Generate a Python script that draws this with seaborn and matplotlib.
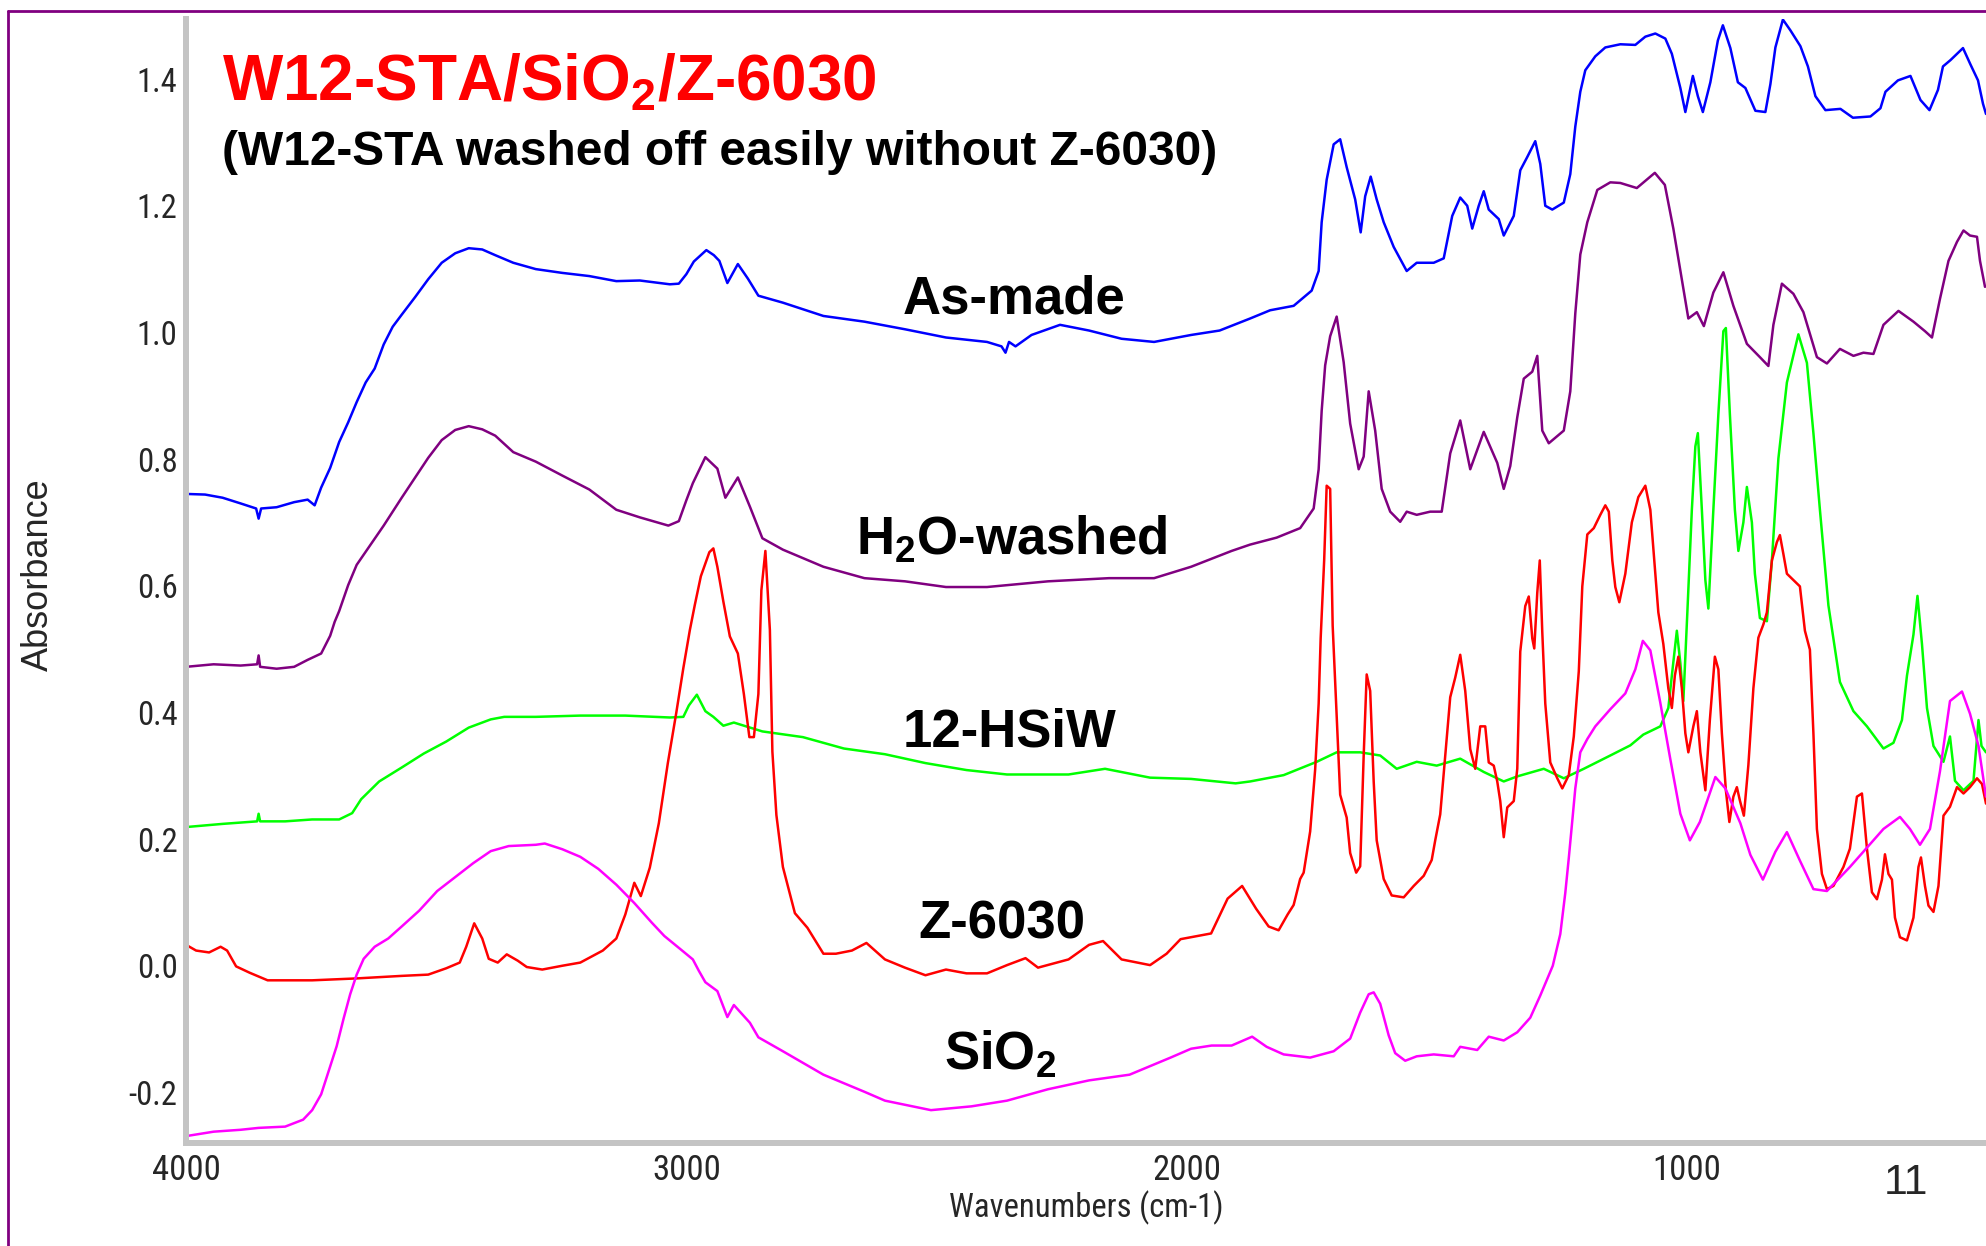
import matplotlib
matplotlib.use('Agg')
import matplotlib.pyplot as plt
import seaborn as sns
import pandas as pd
from matplotlib import font_manager
from matplotlib.lines import Line2D
from matplotlib.ticker import MultipleLocator, FormatStrFormatter

# --- spectra (wavenumber, absorbance) ---
asmade_wn = [4000, 3962, 3927, 3891, 3860, 3855, 3850, 3819, 3784, 3757, 3743, 3730, 3712, 3694, 3676,
             3659, 3641, 3623, 3605, 3587, 3569, 3542, 3516, 3489, 3462, 3435, 3408, 3382, 3346, 3301,
             3248, 3194, 3140, 3093, 3033, 3015, 3000, 2985, 2960, 2945, 2934, 2918, 2897, 2877, 2856,
             2807, 2726, 2644, 2563, 2481, 2399, 2370, 2362, 2355, 2342, 2310, 2253, 2195, 2130, 2065,
             1991, 1934, 1873, 1833, 1786, 1750, 1736, 1730, 1720, 1706, 1693, 1680, 1663, 1652, 1643,
             1632, 1620, 1606, 1586, 1560, 1540, 1506, 1486, 1469, 1453, 1439, 1429, 1416, 1406, 1396,
             1376, 1366, 1346, 1333, 1319, 1303, 1293, 1283, 1269, 1246, 1233, 1223, 1213, 1203, 1183,
             1163, 1133, 1103, 1083, 1063, 1043, 1030, 1013, 1003, 988, 978, 968, 953, 938, 928,
             913, 898, 883, 863, 843, 833, 823, 808, 793, 773, 758, 743, 723, 693, 668,
             633, 613, 603, 578, 553, 533, 515, 498, 488, 473, 448, 433, 418, 408, 402]
asmade_abs = [0.745, 0.744, 0.739, 0.730, 0.722, 0.706, 0.722, 0.724, 0.732, 0.736, 0.727, 0.755, 0.786, 0.827, 0.858,
              0.890, 0.921, 0.943, 0.981, 1.009, 1.028, 1.056, 1.084, 1.110, 1.125, 1.133, 1.131, 1.122, 1.110, 1.100,
              1.094, 1.089, 1.081, 1.082, 1.076, 1.077, 1.092, 1.112, 1.130, 1.122, 1.113, 1.078, 1.108, 1.085, 1.058,
              1.047, 1.026, 1.017, 1.005, 0.992, 0.985, 0.978, 0.968, 0.985, 0.978, 0.996, 1.012, 1.003, 0.990, 0.985,
              0.996, 1.003, 1.022, 1.035, 1.042, 1.066, 1.097, 1.174, 1.241, 1.297, 1.305, 1.261, 1.210, 1.158, 1.215,
              1.246, 1.210, 1.174, 1.135, 1.097, 1.110, 1.110, 1.117, 1.184, 1.213, 1.200, 1.164, 1.200, 1.223, 1.194,
              1.179, 1.153, 1.184, 1.256, 1.277, 1.302, 1.266, 1.200, 1.194, 1.205, 1.250, 1.325, 1.380, 1.414, 1.436,
              1.450, 1.455, 1.454, 1.467, 1.472, 1.464, 1.440, 1.386, 1.348, 1.405, 1.373, 1.348, 1.395, 1.461, 1.485,
              1.449, 1.395, 1.386, 1.350, 1.348, 1.392, 1.450, 1.494, 1.477, 1.452, 1.420, 1.373, 1.351, 1.353, 1.339,
              1.341, 1.354, 1.380, 1.398, 1.405, 1.367, 1.351, 1.383, 1.420, 1.430, 1.449, 1.423, 1.398, 1.361, 1.345]

washed_wn = [4000, 3945, 3891, 3858, 3855, 3852, 3819, 3784, 3757, 3730, 3712, 3703, 3694, 3676, 3659,
             3632, 3605, 3569, 3542, 3516, 3489, 3462, 3435, 3408, 3382, 3346, 3301, 3248, 3194, 3140,
             3093, 3036, 3015, 3000, 2987, 2962, 2938, 2922, 2897, 2873, 2848, 2807, 2726, 2644, 2563,
             2481, 2399, 2277, 2155, 2065, 1991, 1910, 1873, 1820, 1773, 1746, 1736, 1730, 1723, 1713,
             1700, 1686, 1673, 1656, 1646, 1636, 1623, 1610, 1593, 1573, 1560, 1540, 1513, 1490, 1473,
             1453, 1433, 1406, 1379, 1366, 1353, 1339, 1326, 1309, 1299, 1289, 1276, 1246, 1233, 1223,
             1213, 1199, 1179, 1153, 1133, 1100, 1064, 1044, 1027, 1010, 997, 980, 966, 947, 927,
             907, 880, 854, 837, 827, 810, 787, 767, 740, 720, 694, 667, 647, 627, 607,
             577, 547, 524, 510, 494, 477, 460, 447, 434, 420, 414, 404]
washed_abs = [0.472, 0.476, 0.474, 0.476, 0.490, 0.472, 0.469, 0.472, 0.483, 0.493, 0.521, 0.543, 0.560, 0.601, 0.633,
              0.664, 0.695, 0.739, 0.771, 0.802, 0.830, 0.846, 0.852, 0.847, 0.837, 0.811, 0.796, 0.774, 0.752, 0.720,
              0.708, 0.695, 0.702, 0.735, 0.762, 0.803, 0.785, 0.739, 0.771, 0.725, 0.675, 0.657, 0.630, 0.612, 0.607,
              0.598, 0.598, 0.607, 0.612, 0.612, 0.630, 0.655, 0.665, 0.676, 0.691, 0.722, 0.784, 0.876, 0.948, 0.994,
              1.025, 0.953, 0.856, 0.784, 0.804, 0.907, 0.845, 0.753, 0.717, 0.701, 0.717, 0.712, 0.717, 0.717, 0.809,
              0.861, 0.784, 0.843, 0.794, 0.753, 0.789, 0.866, 0.927, 0.938, 0.963, 0.845, 0.825, 0.845, 0.907, 1.030,
              1.123, 1.174, 1.225, 1.237, 1.236, 1.228, 1.252, 1.233, 1.164, 1.083, 1.022, 1.032, 1.010, 1.063, 1.095,
              1.042, 0.982, 0.961, 0.947, 1.012, 1.077, 1.061, 1.032, 0.961, 0.951, 0.974, 0.963, 0.968, 0.966, 1.012,
              1.034, 1.017, 1.002, 0.992, 1.053, 1.113, 1.143, 1.161, 1.153, 1.151, 1.113, 1.072]

hsiw_wn = [4000, 3927, 3858, 3855, 3852, 3802, 3748, 3694, 3668, 3650, 3614, 3569, 3525, 3480, 3435,
           3391, 3364, 3301, 3212, 3122, 3033, 3006, 2995, 2979, 2962, 2946, 2926, 2905, 2848, 2767,
           2685, 2603, 2522, 2440, 2359, 2236, 2163, 2073, 1991, 1902, 1873, 1806, 1740, 1700, 1653,
           1613, 1580, 1540, 1500, 1453, 1406, 1366, 1339, 1286, 1246, 1206, 1153, 1113, 1087, 1053,
           1037, 1030, 1020, 1013, 1007, 999, 990, 983, 978, 970, 963, 957, 947, 937, 927,
           922, 914, 904, 897, 887, 880, 870, 864, 854, 840, 830, 817, 800, 777, 760,
           747, 734, 717, 694, 667, 640, 607, 587, 570, 560, 547, 539, 530, 520, 507,
           487, 474, 464, 447, 427, 417, 411, 402]
hsiw_abs = [0.219, 0.224, 0.228, 0.240, 0.228, 0.228, 0.231, 0.231, 0.241, 0.263, 0.291, 0.313, 0.335, 0.354, 0.376,
            0.389, 0.393, 0.393, 0.395, 0.395, 0.392, 0.393, 0.411, 0.428, 0.402, 0.393, 0.379, 0.384, 0.370, 0.361,
            0.343, 0.334, 0.320, 0.309, 0.302, 0.302, 0.311, 0.297, 0.295, 0.288, 0.291, 0.301, 0.322, 0.337, 0.337,
            0.332, 0.311, 0.322, 0.316, 0.327, 0.306, 0.291, 0.299, 0.311, 0.296, 0.311, 0.332, 0.348, 0.365, 0.378,
            0.407, 0.458, 0.529, 0.478, 0.418, 0.558, 0.720, 0.820, 0.841, 0.720, 0.609, 0.564, 0.720, 0.871, 1.002,
            1.007, 0.871, 0.720, 0.655, 0.700, 0.756, 0.700, 0.619, 0.549, 0.544, 0.640, 0.801, 0.921, 0.997, 0.952,
            0.841, 0.720, 0.569, 0.448, 0.402, 0.378, 0.343, 0.352, 0.388, 0.458, 0.523, 0.584, 0.508, 0.407, 0.347,
            0.322, 0.362, 0.292, 0.277, 0.292, 0.388, 0.347, 0.337]

z6030_wn = [4000, 3980, 3954, 3931, 3918, 3900, 3873, 3837, 3748, 3659, 3569, 3516, 3480, 3453, 3440,
            3424, 3408, 3395, 3377, 3359, 3337, 3319, 3288, 3248, 3212, 3167, 3140, 3122, 3104, 3091,
            3073, 3055, 3037, 3020, 3006, 2993, 2983, 2971, 2954, 2946, 2938, 2926, 2913, 2897, 2885,
            2874, 2865, 2856, 2850, 2842, 2833, 2828, 2820, 2807, 2783, 2758, 2726, 2701, 2669, 2640,
            2603, 2563, 2522, 2481, 2440, 2399, 2359, 2322, 2297, 2236, 2195, 2167, 2130, 2073, 2040,
            2012, 1951, 1918, 1889, 1861, 1836, 1816, 1798, 1786, 1773, 1766, 1753, 1743, 1736, 1732,
            1725, 1720, 1713, 1708, 1701, 1693, 1680, 1673, 1661, 1653, 1646, 1640, 1633, 1626, 1620,
            1606, 1590, 1566, 1546, 1526, 1510, 1503, 1493, 1483, 1473, 1463, 1453, 1443, 1433, 1423,
            1413, 1403, 1396, 1386, 1379, 1373, 1366, 1359, 1346, 1339, 1333, 1323, 1316, 1309, 1305,
            1299, 1294, 1289, 1283, 1273, 1259, 1249, 1236, 1226, 1216, 1209, 1199, 1186, 1173, 1163,
            1156, 1149, 1143, 1135, 1123, 1110, 1097, 1083, 1073, 1067, 1057, 1047, 1037, 1030, 1024,
            1017, 1010, 1003, 997, 987, 980, 973, 963, 954, 944, 937, 930, 922, 915, 907,
            900, 894, 886, 877, 867, 857, 847, 840, 830, 820, 814, 807, 800, 787, 774,
            764, 754, 747, 740, 730, 720, 707, 687, 674, 660, 650, 640, 630, 620, 610,
            604, 597, 590, 584, 574, 560, 547, 537, 532, 524, 517, 507, 497, 487, 474,
            460, 447, 434, 420, 410, 402]
z6030_abs = [0.033, 0.024, 0.021, 0.030, 0.024, -0.001, -0.011, -0.023, -0.023, -0.020, -0.016, -0.014, -0.004, 0.005, 0.030,
             0.067, 0.043, 0.011, 0.005, 0.018, 0.008, -0.002, -0.006, 0.000, 0.005, 0.024, 0.043, 0.081, 0.131, 0.110,
             0.155, 0.225, 0.320, 0.400, 0.470, 0.530, 0.570, 0.615, 0.653, 0.659, 0.630, 0.575, 0.520, 0.493, 0.429,
             0.361, 0.361, 0.429, 0.593, 0.655, 0.530, 0.338, 0.238, 0.156, 0.083, 0.060, 0.019, 0.019, 0.024, 0.036,
             0.010, -0.003, -0.015, -0.006, -0.012, -0.012, 0.001, 0.012, -0.003, 0.010, 0.033, 0.039, 0.010, 0.001, 0.019,
             0.042, 0.051, 0.106, 0.126, 0.090, 0.062, 0.056, 0.081, 0.096, 0.137, 0.147, 0.212, 0.310, 0.414, 0.517,
             0.640, 0.758, 0.753, 0.537, 0.414, 0.270, 0.234, 0.178, 0.147, 0.157, 0.332, 0.460, 0.434, 0.291, 0.198,
             0.137, 0.111, 0.108, 0.126, 0.142, 0.167, 0.198, 0.239, 0.332, 0.424, 0.455, 0.491, 0.434, 0.342, 0.311,
             0.378, 0.378, 0.321, 0.316, 0.291, 0.260, 0.203, 0.250, 0.260, 0.311, 0.496, 0.568, 0.583, 0.517, 0.501,
             0.589, 0.640, 0.527, 0.414, 0.321, 0.296, 0.280, 0.301, 0.362, 0.465, 0.599, 0.681, 0.691, 0.712, 0.727,
             0.717, 0.640, 0.598, 0.574, 0.619, 0.700, 0.740, 0.758, 0.720, 0.659, 0.558, 0.508, 0.438, 0.407, 0.458,
             0.488, 0.438, 0.367, 0.337, 0.378, 0.402, 0.337, 0.277, 0.388, 0.488, 0.468, 0.367, 0.277, 0.227, 0.267,
             0.282, 0.261, 0.237, 0.317, 0.438, 0.518, 0.539, 0.558, 0.640, 0.669, 0.680, 0.650, 0.619, 0.609, 0.599,
             0.529, 0.499, 0.367, 0.216, 0.145, 0.121, 0.126, 0.156, 0.185, 0.267, 0.272, 0.185, 0.116, 0.105, 0.136,
             0.176, 0.145, 0.136, 0.076, 0.045, 0.040, 0.076, 0.156, 0.171, 0.126, 0.095, 0.085, 0.126, 0.237, 0.251,
             0.282, 0.272, 0.282, 0.296, 0.287, 0.256]

sio2_wn = [4000, 3945, 3891, 3855, 3802, 3766, 3748, 3730, 3712, 3699, 3685, 3672, 3659, 3645, 3623,
           3596, 3569, 3534, 3498, 3462, 3426, 3391, 3355, 3301, 3283, 3248, 3212, 3176, 3140, 3104,
           3069, 3044, 3010, 2987, 2975, 2962, 2938, 2918, 2905, 2873, 2856, 2807, 2726, 2644, 2603,
           2511, 2430, 2359, 2277, 2195, 2114, 2032, 1991, 1950, 1910, 1869, 1840, 1806, 1753, 1706,
           1673, 1653, 1636, 1626, 1613, 1596, 1583, 1563, 1540, 1506, 1466, 1453, 1419, 1396, 1366,
           1339, 1313, 1293, 1268, 1253, 1243, 1236, 1229, 1223, 1213, 1199, 1183, 1153, 1123, 1103,
           1088, 1073, 1053, 1033, 1013, 994, 974, 943, 923, 893, 873, 848, 823, 800, 774,
           747, 720, 674, 607, 574, 554, 534, 514, 494, 474, 450, 434, 417, 402]
sio2_abs = [-0.269, -0.262, -0.259, -0.256, -0.254, -0.243, -0.228, -0.203, -0.159, -0.127, -0.083, -0.045, -0.014, 0.011, 0.030,
            0.043, 0.062, 0.087, 0.118, 0.140, 0.162, 0.181, 0.189, 0.191, 0.193, 0.184, 0.172, 0.153, 0.128, 0.099,
            0.068, 0.047, 0.025, 0.010, -0.008, -0.026, -0.040, -0.081, -0.062, -0.090, -0.113, -0.135, -0.172, -0.199, -0.213,
            -0.228, -0.222, -0.213, -0.195, -0.181, -0.172, -0.145, -0.131, -0.126, -0.126, -0.112, -0.128, -0.140, -0.145, -0.135,
            -0.115, -0.074, -0.045, -0.042, -0.060, -0.110, -0.138, -0.150, -0.143, -0.140, -0.143, -0.128, -0.133, -0.112, -0.118,
            -0.105, -0.082, -0.047, 0.000, 0.050, 0.115, 0.170, 0.229, 0.280, 0.337, 0.358, 0.378, 0.405, 0.430, 0.468,
            0.513, 0.498, 0.415, 0.326, 0.240, 0.198, 0.227, 0.298, 0.280, 0.225, 0.175, 0.136, 0.180, 0.211, 0.166,
            0.121, 0.118, 0.156, 0.216, 0.235, 0.216, 0.191, 0.216, 0.307, 0.418, 0.433, 0.398, 0.347, 0.267]

curve_names = ['As-made', 'H$_\\mathbf{2}$O-washed', '12-HSiW', 'Z-6030', 'SiO$_\\mathbf{2}$']
curve_colors = ['#0000ff', '#800080', '#00ff00', '#ff0000', '#ff00ff']
label_wn = [2345, 2350, 2355, 2370, 2373]
label_abs = [1.030, 0.650, 0.346, 0.043, -0.164]

sns.set_style('white')
plt.rcParams['font.family'] = ['Liberation Sans', 'DejaVu Sans']
plt.rcParams['axes.unicode_minus'] = False
plt.rcParams['mathtext.fontset'] = 'custom'
plt.rcParams['mathtext.rm'] = 'Liberation Sans'
plt.rcParams['mathtext.bf'] = 'Liberation Sans:bold'

# axis numbers in the original are set in a narrow face; use one if there is any
names = {f.name for f in font_manager.fontManager.ttflist}
narrow = None
for cand in ['Liberation Sans Narrow', 'Arial Narrow', 'Roboto Condensed', 'Noto Sans Condensed',
             'Open Sans Condensed', 'DejaVu Sans Condensed']:
    if cand in names:
        narrow = cand
        break
if narrow is None:
    cond = [f.name for f in font_manager.fontManager.ttflist
            if f.stretch in ('condensed', 'semi-condensed', 'extra-condensed')
            and f.style == 'normal' and f.weight in (400, 'normal', 'regular')]
    if cond:
        narrow = cond[0]
if narrow is not None:
    num_font, ysize, xsize, lsize = narrow, 23.5, 25, 23.5
else:
    num_font, ysize, xsize, lsize = 'Liberation Sans', 21, 22, 20

fig = plt.figure(figsize=(19.86, 12.46), dpi=100)
ax = fig.add_axes([0.0937, 0.0826, 0.9063, 0.9022])

spectra = [(asmade_wn, asmade_abs), (washed_wn, washed_abs), (hsiw_wn, hsiw_abs),
           (z6030_wn, z6030_abs), (sio2_wn, sio2_abs)]
for (wn, ab), col in zip(spectra, curve_colors):
    df = pd.DataFrame({'wn': wn, 'abs': ab})
    sns.lineplot(data=df, x='wn', y='abs', ax=ax, color=col, lw=1.8,
                 estimator=None, sort=False, legend=False)

ax.set_xlim(4000, 402)
ax.set_ylim(-0.28, 1.495)

for side in ['top', 'right']:
    ax.spines[side].set_visible(False)
for side in ['left', 'bottom']:
    ax.spines[side].set_color('#c4c4c4')
    ax.spines[side].set_linewidth(4.3)

ax.xaxis.set_major_locator(MultipleLocator(1000))
ax.xaxis.set_minor_locator(MultipleLocator(200))
ax.yaxis.set_major_locator(MultipleLocator(0.2))
ax.yaxis.set_minor_locator(MultipleLocator(0.04))
ax.yaxis.set_major_formatter(FormatStrFormatter('%.1f'))
ax.tick_params(axis='y', which='major', direction='inout', length=7.2, width=1.4,
               color='black', pad=2.5, labelsize=ysize)
ax.tick_params(axis='y', which='minor', direction='inout', length=3.6, width=1.4, color='black')
ax.tick_params(axis='x', which='major', direction='inout', length=5.8, width=1.4,
               color='black', pad=5, labelsize=xsize)
ax.tick_params(axis='x', which='minor', direction='inout', length=2.9, width=1.4, color='black')
for lab in ax.get_xticklabels() + ax.get_yticklabels():
    lab.set_family(num_font)

ax.set_xlabel('Wavenumbers (cm-1)', fontsize=lsize, family=num_font, va='baseline')
ax.xaxis.set_label_coords(0.5, -0.0657)
ax.set_ylabel('Absorbance', fontsize=26, va='center', ha='center')
ax.yaxis.set_label_coords(-0.0822, 0.5058)

for name, x, y in zip(curve_names, label_wn, label_abs):
    ax.text(x, y, name, ha='center', va='baseline', fontsize=38, fontweight='bold', color='black')

fig.text(0.1118, 0.919, 'W12-STA/SiO$_\\mathbf{2}$/Z-6030', fontsize=46, fontweight='bold',
         color='#ff0000', va='baseline', ha='left')
fig.text(0.1118, 0.8676, '(W12-STA washed off easily without Z-6030)', fontsize=34.5,
         fontweight='bold', color='black', va='baseline', ha='left')
fig.text(0.9597, 0.0502, '11', fontsize=31, ha='center', va='center')

# slide frame
fig.add_artist(Line2D([8 / 1986, 8 / 1986], [0, 1 - 11 / 1246], transform=fig.transFigure,
                      color='#800080', lw=2))
fig.add_artist(Line2D([8 / 1986, 1], [1 - 11 / 1246, 1 - 11 / 1246], transform=fig.transFigure,
                      color='#800080', lw=2))

fig.savefig('out.png', dpi=100)
